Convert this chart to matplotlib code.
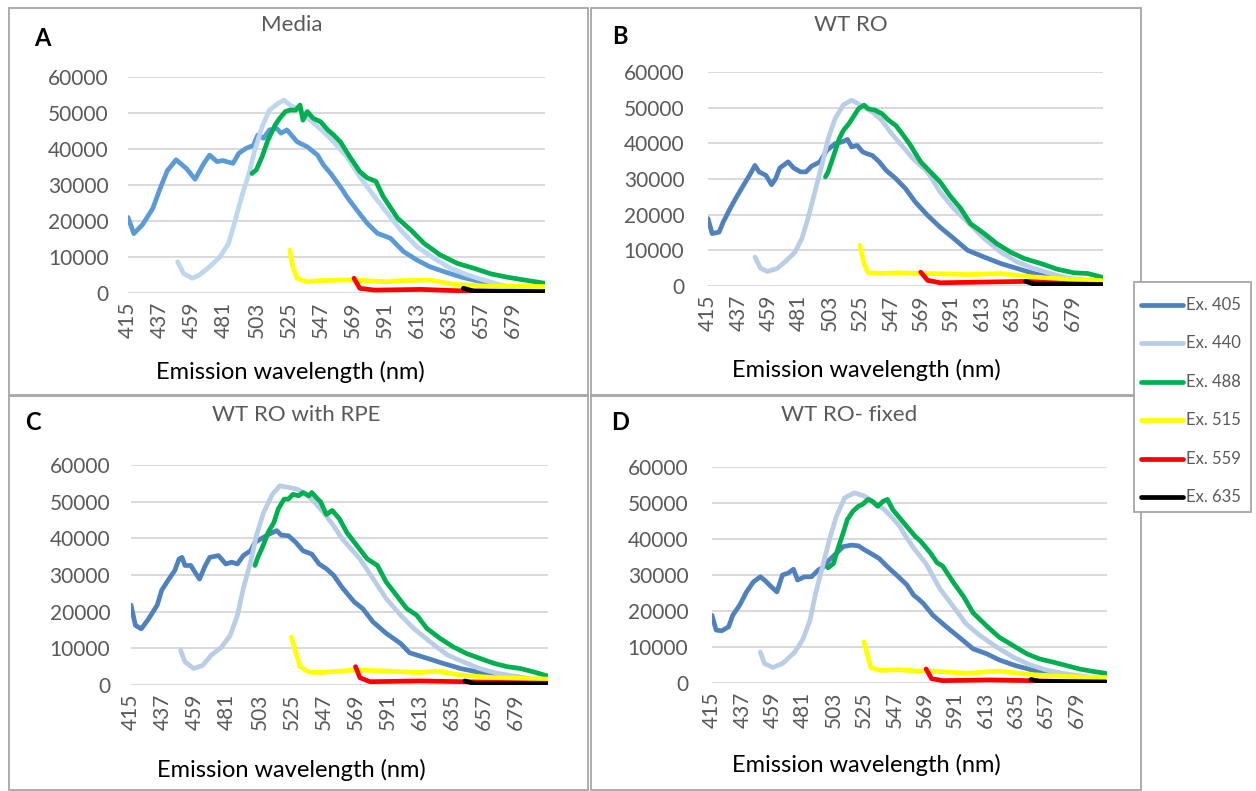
import matplotlib.pyplot as plt
from matplotlib.patches import Rectangle
from matplotlib.lines import Line2D
import numpy as np

plt.rcParams['font.family'] = ['Lato', 'DejaVu Sans']

# emission spectra, (wavelength nm, intensity)
media_405 = [(415, 21000), (419, 16500), (425, 19000), (432, 23500), (437, 29000), (442, 34000), (448, 37000),
             (455, 34600), (461, 31600), (467, 36000), (471, 38300), (476, 36500), (480, 36800), (487, 36000),
             (491, 38800), (496, 40200), (501, 41000), (504, 43900), (508, 43000), (512, 45300), (517, 45700),
             (520, 44400), (524, 45300), (527, 43900), (531, 42000), (538, 40600), (545, 38300), (549, 35600),
             (554, 33200), (561, 29300), (565, 26800), (572, 23000), (579, 19400), (586, 16600), (595, 15200),
             (604, 11500), (613, 9200), (622, 7300), (632, 5900), (643, 4500), (652, 3600), (661, 2700), (668, 2200)]
media_440 = [(449, 8700), (453, 5500), (459, 4100), (464, 5000), (471, 7300), (478, 10000), (484, 13800),
             (488, 19400), (493, 26800), (498, 33200), (502, 39700), (507, 46200), (512, 50800), (518, 52700),
             (522, 53600), (526, 52200), (533, 50800), (540, 48000), (549, 44800), (556, 42000), (565, 37900),
             (574, 32300), (584, 26800), (593, 22100), (602, 17500), (613, 12900), (625, 9600), (636, 6900),
             (648, 5000), (659, 3600), (671, 2200), (684, 1300), (692, 1000)]
media_488 = [(500, 33200), (503, 34200), (507, 37900), (511, 42500), (516, 46700), (519, 48500), (523, 50400),
             (526, 50800), (530, 50800), (533, 52200), (535, 48000), (538, 50400), (542, 48500), (547, 47600),
             (552, 45300), (556, 43900), (561, 41800), (567, 37900), (574, 33700), (579, 32000), (585, 31000),
             (590, 26800), (600, 20700), (609, 17500), (618, 13800), (629, 10600), (641, 8200), (652, 6900),
             (664, 5300), (675, 4400), (687, 3600), (701, 2700)]
media_515 = [(526, 11900), (528, 7300), (531, 4100), (538, 3100), (545, 3400), (561, 3600), (570, 3600),
             (593, 3100), (600, 3400), (622, 3600), (638, 2400), (661, 1900), (701, 1800)]
media_559 = [(570, 4100), (574, 1300), (584, 800), (616, 1000), (643, 600), (701, 200)]
media_635 = [(645, 1300), (652, 550), (701, 400)]

ro_405 = [(415, 18900), (418, 14700), (423, 15100), (426, 17900), (431, 21700), (435, 24500), (440, 27800),
          (445, 31000), (449, 33800), (452, 32000), (457, 31000), (461, 28400), (464, 30100), (467, 33100),
          (473, 34800), (477, 33100), (482, 32000), (486, 32000), (490, 33600), (496, 34800), (501, 38000),
          (507, 39900), (512, 40400), (516, 41100), (519, 39000), (523, 39400), (527, 37600), (530, 37100),
          (534, 36600), (539, 34800), (544, 32400), (551, 30100), (558, 27300), (565, 23600), (574, 19800),
          (583, 16500), (593, 13300), (603, 10000), (615, 8100), (627, 6300), (639, 4900), (651, 3500),
          (663, 2500), (673, 1600)]
ro_440 = [(449, 8100), (453, 5000), (458, 4100), (465, 4900), (472, 7200), (478, 9500), (483, 13300),
          (488, 19800), (493, 27300), (498, 34800), (502, 41300), (507, 46900), (513, 50800), (519, 52100),
          (525, 50800), (534, 48800), (541, 46400), (548, 42700), (555, 39500), (564, 35500), (574, 32000),
          (583, 26400), (593, 21700), (603, 17900), (615, 13300), (627, 9500), (639, 6700), (651, 4900),
          (663, 3500), (675, 2200), (690, 1600)]
ro_488 = [(500, 30600), (502, 32000), (506, 36600), (510, 41300), (513, 43600), (517, 45500), (521, 47900),
          (524, 49700), (528, 50700), (531, 49700), (536, 49300), (541, 48300), (546, 46400), (551, 45000),
          (555, 43000), (561, 39800), (569, 34800), (576, 32000), (583, 29200), (590, 25400), (598, 21700),
          (605, 17500), (615, 14700), (624, 11900), (634, 9500), (644, 7700), (656, 6300), (668, 4700),
          (680, 3700), (690, 3500), (700, 2500)]
ro_515 = [(525, 11400), (528, 6300), (531, 3700), (541, 3500), (554, 3700), (564, 3500), (578, 3500),
          (603, 3200), (627, 3500), (651, 2500), (675, 1900), (700, 1500)]
ro_559 = [(569, 3900), (574, 1600), (583, 900), (615, 1100), (646, 1300), (675, 650), (700, 400)]
ro_635 = [(645, 1300), (651, 550), (700, 400)]

rpe_405 = [(415, 21800), (418, 16300), (422, 15300), (427, 18000), (433, 21800), (436, 25800), (441, 28900),
           (445, 31200), (448, 34400), (450, 34800), (452, 32600), (456, 32600), (459, 30700), (462, 28900),
           (466, 32600), (469, 34800), (475, 35300), (480, 33000), (484, 33500), (488, 33000), (492, 35300),
           (497, 36600), (500, 38900), (506, 40300), (510, 41200), (515, 42100), (518, 40900), (523, 40700),
           (528, 38900), (533, 36600), (539, 35700), (544, 33000), (549, 31700), (554, 29900), (560, 26500),
           (568, 22700), (574, 20800), (581, 17200), (590, 14100), (600, 11300), (606, 8800), (618, 7300),
           (629, 5900), (641, 4500), (652, 3600), (664, 2700), (677, 2000)]
rpe_440 = [(449, 9500), (452, 6300), (458, 4500), (464, 5300), (470, 8100), (477, 10300), (483, 13500),
           (488, 19000), (492, 26300), (497, 33500), (501, 40800), (506, 47100), (512, 52000), (517, 54300),
           (523, 53900), (529, 53400), (535, 52000), (541, 49800), (548, 46600), (554, 43400), (560, 39800),
           (572, 34400), (581, 29000), (590, 23600), (600, 19000), (609, 15400), (620, 11800), (632, 8200),
           (643, 6300), (654, 4500), (666, 3200), (680, 2300), (691, 1600)]
rpe_488 = [(500, 32600), (502, 34800), (506, 38400), (509, 41600), (513, 44300), (516, 48000), (520, 50700),
           (523, 50700), (526, 52000), (530, 51600), (533, 52500), (537, 51600), (539, 52500), (543, 50700),
           (545, 50000), (549, 46500), (553, 47600), (558, 45300), (563, 41600), (570, 38000), (577, 34400),
           (584, 32600), (590, 28100), (597, 24500), (604, 20900), (611, 19000), (618, 15400), (627, 12700),
           (636, 10400), (645, 8600), (654, 7300), (664, 5900), (673, 5000), (682, 4500), (691, 3600),
           (701, 2400)]
rpe_515 = [(525, 13100), (528, 9000), (531, 5000), (537, 3500), (544, 3400), (560, 3800), (568, 4100),
           (590, 3800), (613, 3400), (625, 3800), (641, 2700), (664, 2000), (701, 1600)]
rpe_559 = [(569, 5000), (572, 2000), (579, 900), (613, 1100), (643, 900), (701, 450)]
rpe_635 = [(644, 1100), (650, 450), (701, 300)]

fixed_405 = [(415, 18800), (418, 14700), (422, 14500), (427, 15600), (430, 18800), (435, 21600), (440, 25300),
             (445, 28100), (450, 29500), (453, 28600), (458, 26700), (462, 25300), (466, 30000), (470, 30500),
             (474, 31600), (477, 28600), (482, 29500), (487, 29500), (492, 31400), (496, 32300), (500, 34200),
             (505, 36000), (510, 37900), (516, 38300), (521, 38100), (525, 37100), (530, 36000), (536, 34600),
             (542, 32300), (550, 29500), (556, 27300), (561, 24400), (564, 23500), (568, 22100), (575, 18800),
             (585, 15500), (594, 12700), (604, 9500), (614, 8100), (623, 6400), (635, 4800), (647, 3600),
             (659, 2700), (669, 2000)]
fixed_440 = [(450, 8600), (453, 5400), (459, 4300), (466, 5400), (475, 8600), (481, 12300), (486, 17500),
             (490, 24900), (495, 32300), (500, 39800), (505, 46200), (511, 51400), (518, 52800), (525, 52000),
             (533, 50000), (540, 48100), (547, 45300), (551, 43500), (554, 41500), (561, 37500), (570, 33100),
             (580, 26200), (590, 21100), (599, 16400), (609, 13200), (621, 10000), (633, 7200), (645, 5100),
             (657, 3600), (669, 2700), (684, 1800), (696, 1400)]
fixed_488 = [(499, 32000), (503, 33200), (506, 37100), (510, 41700), (513, 45400), (517, 47700), (521, 49100),
             (524, 49600), (528, 51000), (531, 50500), (535, 49100), (539, 50500), (542, 51000), (546, 48100),
             (551, 45800), (556, 43500), (562, 40800), (566, 39400), (573, 36200), (578, 33400), (582, 32500),
             (590, 27800), (597, 24100), (604, 19500), (614, 15800), (623, 12700), (633, 10400), (643, 8100),
             (652, 6700), (662, 5800), (672, 4800), (681, 3900), (691, 3200), (700, 2700)]
fixed_515 = [(525, 11400), (528, 7200), (530, 4300), (537, 3500), (550, 3700), (563, 3300), (575, 3300),
             (599, 2700), (623, 3300), (647, 2300), (672, 1800), (700, 1400)]
fixed_559 = [(570, 3900), (574, 1200), (582, 650), (616, 850), (645, 650), (700, 100)]
fixed_635 = [(646, 1000), (652, 450), (700, 300)]

series_names = ['Ex. 405', 'Ex. 440', 'Ex. 488', 'Ex. 515', 'Ex. 559', 'Ex. 635']
titles = ['Media', 'WT RO', 'WT RO with RPE', 'WT RO- fixed']
letters = ['A', 'B', 'C', 'D']
panel_data = [
    [media_405, media_440, media_488, media_515, media_559, media_635],
    [ro_405, ro_440, ro_488, ro_515, ro_559, ro_635],
    [rpe_405, rpe_440, rpe_488, rpe_515, rpe_559, rpe_635],
    [fixed_405, fixed_440, fixed_488, fixed_515, fixed_559, fixed_635],
]

W, H = 1256, 791
colors_a = ['#5B9BD5', '#BDD7EE', '#00B050', '#FFFF00', '#FF0000', '#000000']
colors_b = ['#4F81BD', '#B9CDE5', '#00B050', '#FFFF00', '#FF0000', '#000000']

# layout in pixels: plot area (left, top, right, bottom), box, title/letter/xlabel spots, ytick pad
plot_px = [(128, 77, 545, 293), (708, 72, 1103, 286), (131, 465, 548, 685), (712, 467, 1107, 683)]
box_px = [(9, 8, 588, 395), (591, 8, 1141, 395), (9, 396, 588, 790), (591, 396, 1141, 790)]
title_px = [(292, 25), (851, 25), (296, 415), (849, 415)]
letter_px = [(42, 38), (620, 36), (33, 423), (620, 423)]
xlabel_px = [(290, 372), (866, 370), (291, 770), (866, 765)]
ypads = [14, 17, 15, 17]


def fx(px):
    return px / W


def fy(py):
    return 1 - py / H


fig = plt.figure(figsize=(W / 100, H / 100), dpi=100)

for i in range(4):
    l, t, r, b = plot_px[i]
    ax = fig.add_axes([fx(l), fy(b), fx(r) - fx(l), fy(t) - fy(b)])
    cols = colors_a if i == 0 else colors_b
    for k, pts in enumerate(panel_data[i]):
        xs = [p[0] for p in pts]
        ys = [p[1] for p in pts]
        ax.plot(xs, ys, color=cols[k], lw=3.4, solid_joinstyle='round', solid_capstyle='round')
    ax.set_xlim(415, 701)
    ax.set_ylim(0, 60000)
    ax.set_xticks(np.arange(415, 680, 22))
    ax.set_yticks(np.arange(0, 60001, 10000))
    ax.set_yticklabels([str(v) for v in range(0, 60001, 10000)])
    ax.tick_params(axis='y', length=0, pad=ypads[i], labelsize=15, labelcolor='#595959')
    ax.tick_params(axis='x', length=0, pad=6, labelsize=15, labelcolor='#595959', labelrotation=90)
    ax.yaxis.grid(True, color='#D9D9D9', linewidth=1.4)
    ax.set_axisbelow(True)
    for s in ax.spines.values():
        s.set_visible(False)

    x0, y0, x1, y1 = box_px[i]
    fig.add_artist(Rectangle((fx(x0), fy(y1)), fx(x1) - fx(x0), fy(y0) - fy(y1),
                             transform=fig.transFigure, fill=False, edgecolor='#A6A6A6', lw=1.3))
    fig.text(fx(title_px[i][0]), fy(title_px[i][1]), titles[i], ha='center', va='center',
             fontsize=16, color='#595959')
    fig.text(fx(letter_px[i][0]), fy(letter_px[i][1]), letters[i], ha='center', va='center',
             fontsize=17, fontweight='bold', color='black')
    fig.text(fx(xlabel_px[i][0]), fy(xlabel_px[i][1]), 'Emission wavelength (nm)', ha='center', va='center',
             fontsize=17, color='black')

# legend box drawn by hand, sits over the right edge of the B/D frames
fig.add_artist(Rectangle((fx(1134), fy(512)), fx(1251) - fx(1134), fy(282) - fy(512),
                         transform=fig.transFigure, facecolor='white', edgecolor='#A6A6A6', lw=1.3, zorder=5))
for k, name in enumerate(series_names):
    yy = fy(305 + 38.4 * k)
    fig.add_artist(Line2D([fx(1141), fx(1183)], [yy, yy], transform=fig.transFigure,
                          color=colors_b[k], lw=3.4, solid_capstyle='round', zorder=6))
    fig.text(fx(1186), yy, name, ha='left', va='center', fontsize=12, color='#595959', zorder=6)

plt.savefig('out.png', dpi=100)
